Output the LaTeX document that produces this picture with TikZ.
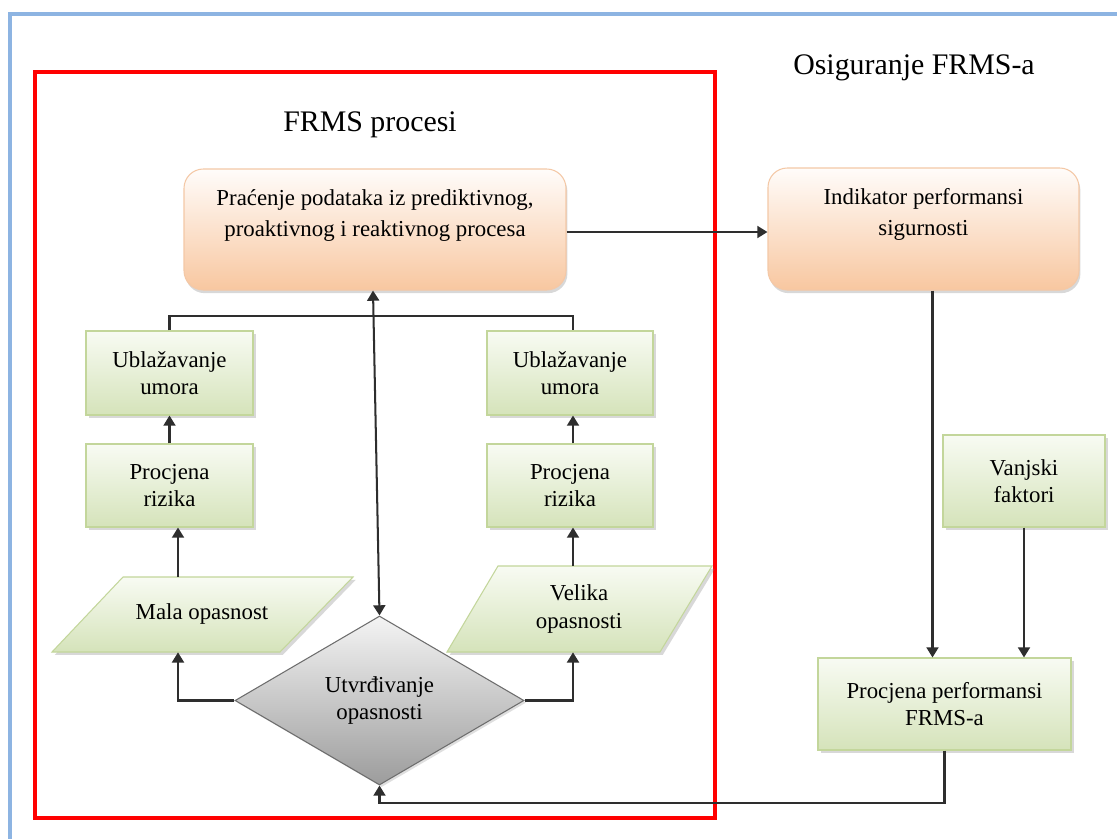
\documentclass[tikz,border=0pt]{standalone}
\usepackage{fontspec}
\setmainfont{Liberation Serif}
\usetikzlibrary{shapes.geometric,shadows,arrows.meta,calc}
\definecolor{gfill}{HTML}{D5E3BA}
\definecolor{gtop}{HTML}{F8FBF3}
\definecolor{gborder}{HTML}{C3D69B}
\definecolor{ofill}{HTML}{F8C7A0}
\definecolor{otop}{HTML}{FFFCFA}
\definecolor{oborder}{HTML}{F4C8A6}
\definecolor{dtop}{HTML}{F4F4F4}
\definecolor{dbottom}{HTML}{9C9C9C}
\definecolor{linecol}{HTML}{2E2E2E}
\definecolor{blueframe}{HTML}{8DB4E2}
\newcommand\pxu{0.02cm}
\begin{document}
\begin{tikzpicture}[x=0.02cm,y=-0.02cm,
  greenbox/.style={draw=gborder, line width=0.6pt, top color=gtop, bottom color=gfill,
    drop shadow={shadow xshift=1.6pt, shadow yshift=-1.6pt, opacity=0.3},
    align=center, inner sep=0pt, font=\fontsize{13}{15.5}\selectfont},
  orangebox/.style={draw=oborder, line width=0.6pt, rounded corners=11pt, top color=otop, bottom color=ofill,
    drop shadow={shadow xshift=0.8pt, shadow yshift=-1.8pt, opacity=0.3},
    inner sep=0pt, font=\fontsize{13}{17.5}\selectfont},
  parashape/.style={draw=gborder, line width=0.6pt, top color=gtop, bottom color=gfill,
    drop shadow={shadow xshift=1.6pt, shadow yshift=-1.6pt, opacity=0.3}},
  plaintext/.style={align=center, inner sep=0pt, font=\fontsize{13}{15.5}\selectfont},
  title/.style={inner sep=0pt, font=\fontsize{17}{20}\selectfont},
  conn/.style={draw=linecol, line width=1.15pt},
  arr/.style={conn, -{Triangle[length=5.8pt,width=6.8pt]}},
  darr/.style={conn, {Triangle[length=5.8pt,width=6.8pt]}-{Triangle[length=5.8pt,width=6.8pt]}},
]
\useasboundingbox (0,0) rectangle (1117,839);
\clip (0,0) rectangle (1117,839);
\fill[white] (0,0) rectangle (1117,839);

% frames
\draw[blueframe, line width=2.2pt] (10,14) rectangle (1160,880);
\draw[red, line width=2.4pt] (35,72) rectangle (715,818);

% titles
\node[title] (t1) at (370,125) {FRMS procesi};
\node[title] (t2) at (914,68) {Osiguranje FRMS-a};

% top boxes
\node[orangebox, minimum width=382*\pxu, minimum height=121*\pxu] (topbox) at (375,229.5)
  {\parbox[c][2.42cm][t]{7.64cm}{\centering\rule{0pt}{21pt}Praćenje podataka iz prediktivnog,\\proaktivnog i reaktivnog procesa}};
\node[orangebox, minimum width=311*\pxu, minimum height=122*\pxu] (ind) at (923.5,229)
  {\parbox[c][2.44cm][t]{6.22cm}{\centering\rule{0pt}{21pt}Indikator performansi\\sigurnosti}};

% green boxes
\node[greenbox, minimum width=167*\pxu, minimum height=84*\pxu] (ublL) at (169.5,373) {Ublažavanje\\umora};
\node[greenbox, minimum width=167*\pxu, minimum height=83*\pxu] (procL) at (169.5,485.5) {Procjena\\rizika};
\node[greenbox, minimum width=166*\pxu, minimum height=84*\pxu] (ublR) at (570,373) {Ublažavanje\\umora};
\node[greenbox, minimum width=166*\pxu, minimum height=83*\pxu] (procR) at (570,485.5) {Procjena\\rizika};
\node[greenbox, minimum width=162*\pxu, minimum height=92*\pxu] (vanj) at (1024,481) {Vanjski\\faktori};
\node[greenbox, minimum width=253*\pxu, minimum height=92*\pxu] (pfr) at (944.5,704) {Procjena performansi\\FRMS-a};

% parallelograms
\path[parashape] (123,577) -- (353,577) -- (280,652) -- (52,652) -- cycle;
\path[parashape] (498,566) -- (712,566) -- (660,652) -- (447,652) -- cycle;
\node[plaintext, minimum height=75*\pxu] (mala) at (202,614.5) {Mala opasnost};
\node[plaintext, minimum height=86*\pxu] (velika) at (579,609) {Velika\\opasnosti};

% diamond
\node[diamond, draw=linecol!70, line width=0.6pt, top color=dtop, bottom color=dbottom,
  aspect=1.71, minimum width=289*\pxu, minimum height=169*\pxu, inner sep=0pt,
  drop shadow={shadow xshift=1.2pt, shadow yshift=-1.2pt, opacity=0.25},
  plaintext] (diam) at (379.5,700.5) {Utvrđivanje\\opasnosti};

% helper coordinates
\coordinate (mlx) at (178,0);
\coordinate (vrx) at (573,0);
\coordinate (hy) at (0,316);
\coordinate (ix) at (932.5,0);
\coordinate (tx) at (373,0);
\coordinate (by) at (0,803);
\coordinate (ay) at (0,232);

% connectors
\draw[conn] (ublL.north) |- (hy -| vrx) -- (ublR.north -| vrx);
\draw[arr] (procL.north) -- (ublL.south);
\draw[arr] (procR.north -| vrx) -- (ublR.south -| vrx);
\draw[arr] (mala.north -| mlx) -- (procL.south -| mlx);
\draw[arr] (velika.north -| vrx) -- (procR.south -| vrx);
\draw[arr] (diam.west) -| (mala.south -| mlx);
\draw[arr] (diam.east) -| (velika.south -| vrx);
\draw[darr] (diam.north) -- (topbox.south -| tx);
\draw[arr] (topbox.east |- ay) -- (ind.west |- ay);
\draw[arr] (ind.south -| ix) -- (pfr.north -| ix);
\draw[arr] (vanj.south) -- (pfr.north -| vanj.south);
\draw[arr] (pfr.south) -- (pfr.south |- by) -| (diam.south);
\end{tikzpicture}
\end{document}
